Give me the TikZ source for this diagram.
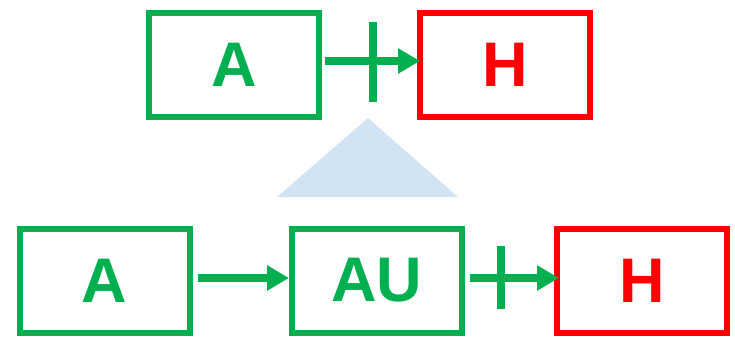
\documentclass[tikz,border=0pt]{standalone}
\usepackage{fontspec}
\setmainfont{Liberation Sans}
\usetikzlibrary{arrows.meta,calc}
\definecolor{okgreen}{RGB}{0,176,80}
\definecolor{okred}{RGB}{255,0,0}
\definecolor{tri}{RGB}{210,227,243}
\tikzset{
  box/.style={draw=#1, text=#1, line width=6pt, outer sep=0pt, minimum width=170pt, minimum height=104pt, inner sep=0pt, font=\fontsize{63}{63}\selectfont\bfseries},
  conn/.style={draw=okgreen, line width=8pt, -{Triangle[length=22pt,width=24pt]}},
  barline/.style={draw=okgreen, line width=8pt}
}
\begin{document}
\begin{tikzpicture}[x=1pt,y=-1pt]
\useasboundingbox (0,0) rectangle (735,339);
\fill[tri] (368,118) -- (458,197) -- (277,197) -- cycle;
% top row
\node[box=okgreen] (a1) at (234,65) {\raisebox{-3pt}{A}};
\node[box=okred] (h1) at (505,65) {\raisebox{-3pt}{H}};
\draw[conn] ([xshift=6pt,yshift=4pt]a1.east) -- ([yshift=4pt]h1.west);
\coordinate (b1) at ($(a1.east)!0.535!(h1.west)$);
\draw[barline] ([yshift=43pt]b1) -- ([yshift=-37pt]b1);
% bottom row
\node[box=okgreen] (a2) at (104.5,280.5) {\raisebox{-3pt}{A}};
\node[box=okgreen] (au) at (377,280.5) {\raisebox{-3pt}{AU}};
\node[box=okred] (h2) at (642,280.5) {\raisebox{-3pt}{H}};
\draw[conn] ([xshift=8pt,yshift=2.5pt]a2.east) -- ([xshift=-3pt,yshift=2.5pt]au.west);
\draw[conn] ([xshift=8pt,yshift=2.5pt]au.east) -- ([xshift=2pt,yshift=2.5pt]h2.west);
\coordinate (b2) at ($(au.east)!0.41!(h2.west)$);
\draw[barline] ([yshift=34.5pt]b2) -- ([yshift=-28.5pt]b2);
\end{tikzpicture}
\end{document}
